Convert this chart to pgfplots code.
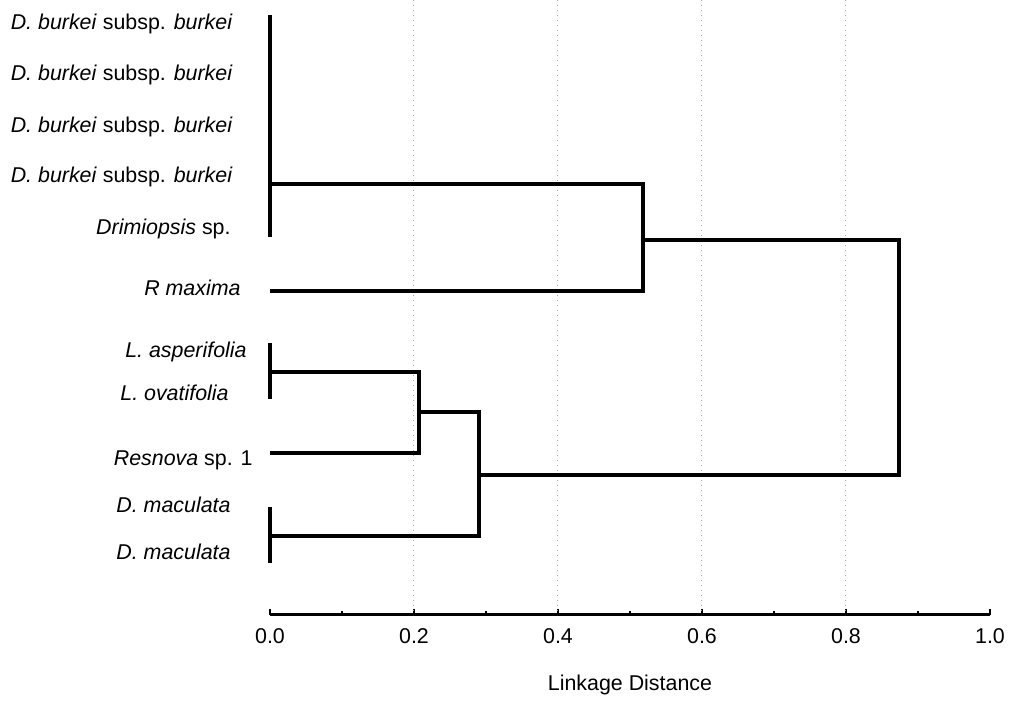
\documentclass[border=0pt]{standalone}
\usepackage{pgfplots}
\pgfplotsset{compat=1.18}
\usepackage{fontspec}
\setmainfont{Liberation Sans}
\begin{document}
\begin{tikzpicture}[font=\fontsize{10.7}{13}\selectfont]
\path[use as bounding box] (-135pt,-43pt) rectangle (371.5pt,307.5pt);
\begin{axis}[
  at={(0pt,0pt)}, anchor=south west,
  scale only axis, width=360pt, height=307.5pt,
  xmin=0, xmax=1, ymin=-615, ymax=0,
  axis x line*=bottom, axis y line=none,
  axis line style={-, line width=1.5pt, black},
  xtick={0,0.2,0.4,0.6,0.8,1},
  minor xtick={0.1,0.3,0.5,0.7,0.9},
  xticklabels={0.0,0.2,0.4,0.6,0.8,1.0},
  tick align=inside,
  major tick length=3pt, minor tick length=2pt,
  every tick/.style={black, line width=1.2pt},
  xticklabel style={yshift=-3pt},
  /pgf/number format/assume math mode=true,
  xlabel={Linkage Distance},
  xlabel style={yshift=-9pt},
  clip=false,
]
% grid lines
\foreach \gx in {0.2,0.4,0.6,0.8} {
  \edef\tmp{\noexpand\draw[gray!70, dotted, line width=0.5pt] (axis cs:\gx,0) -- (axis cs:\gx,-615);}\tmp
}
% dendrogram
\addplot[black, line width=2.1pt, line join=miter] coordinates {(0,-15) (0,-237)};
\addplot[black, line width=2.1pt, line join=miter] coordinates {(0,-343) (0,-399)};
\addplot[black, line width=2.1pt, line join=miter] coordinates {(0,-507) (0,-563)};
\addplot[black, line width=2.1pt, line join=miter] coordinates {(0,-184) (0.518,-184) (0.518,-291) (0,-291)};
\addplot[black, line width=1.8pt, line join=miter] coordinates {(0.518,-240) (0.8736,-240) (0.8736,-475) (0.290,-475)};
\addplot[black, line width=2.1pt, line join=miter] coordinates {(0,-372) (0.207,-372) (0.207,-453) (0,-453)};
\addplot[black, line width=2.1pt, line join=miter] coordinates {(0.207,-412) (0.290,-412) (0.290,-536) (0,-536)};
% leaf labels
\node[anchor=base east, inner sep=0pt] at (axis cs:-0.0514,-30) {\textit{D. burkei} subsp. \textit{burkei}};
\node[anchor=base east, inner sep=0pt] at (axis cs:-0.0514,-81) {\textit{D. burkei} subsp. \textit{burkei}};
\node[anchor=base east, inner sep=0pt] at (axis cs:-0.0514,-133) {\textit{D. burkei} subsp. \textit{burkei}};
\node[anchor=base east, inner sep=0pt] at (axis cs:-0.0514,-183) {\textit{D. burkei} subsp. \textit{burkei}};
\node[anchor=base east, inner sep=0pt] at (axis cs:-0.0542,-235) {\textit{Drimiopsis} sp.};
\node[anchor=base east, inner sep=0pt] at (axis cs:-0.0403,-296) {\textit{R maxima}};
\node[anchor=base east, inner sep=0pt] at (axis cs:-0.0319,-358) {\textit{L. asperifolia}};
\node[anchor=base east, inner sep=0pt] at (axis cs:-0.0569,-401) {\textit{L. ovatifolia}};
\node[anchor=base east, inner sep=0pt] at (axis cs:-0.0236,-466) {\textit{Resnova} sp. 1};
\node[anchor=base east, inner sep=0pt] at (axis cs:-0.0542,-513) {\textit{D. maculata}};
\node[anchor=base east, inner sep=0pt] at (axis cs:-0.0542,-560) {\textit{D. maculata}};
\end{axis}
\end{tikzpicture}
\end{document}
